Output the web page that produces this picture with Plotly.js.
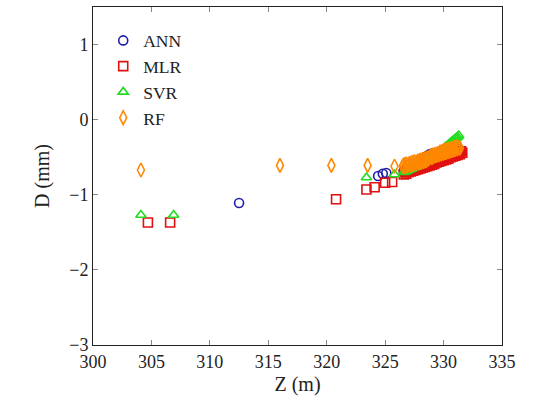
<!DOCTYPE html>
<html>
<head>
<meta charset="utf-8">
<script src="https://cdn.plot.ly/plotly-3.0.1.min.js"></script>
</head>
<body style="margin:0;background:#fff">
<div id="chart" style="width:533px;height:402px"></div>
<script>
// ANN
var annX = [312.5, 324.4, 324.8, 325.1,
  326.6, 326.8, 327.0, 327.2, 327.4, 327.6, 327.8, 328.0, 328.2, 328.4, 328.6, 328.8, 329.0, 329.2, 329.4, 329.6, 329.8, 330.0, 330.2, 330.4, 330.6, 330.8, 331.0, 331.2, 331.4, 331.5];
var annY = [-1.11, -0.75, -0.72, -0.71,
  -0.68, -0.67, -0.66, -0.65, -0.64, -0.63, -0.61, -0.59, -0.56, -0.52, -0.48, -0.46, -0.45, -0.46, -0.45, -0.44, -0.43, -0.42, -0.42, -0.41, -0.42, -0.40, -0.40, -0.39, -0.41, -0.42];
// MLR
var mlrX = [304.7, 306.6, 320.8, 323.4, 324.1, 325.0, 325.6,
  326.6, 326.7, 326.8, 326.9, 327.0, 327.1, 327.2, 327.3, 327.4, 327.5, 327.6, 327.7, 327.8, 327.9, 328.0, 328.1, 328.2, 328.3, 328.4, 328.5, 328.6, 328.7, 328.8, 328.9, 329.0, 329.1, 329.2, 329.3, 329.4, 329.5, 329.6, 329.7, 329.8, 329.9, 330.0, 330.1, 330.2, 330.3, 330.4, 330.5, 330.6, 330.7, 330.8, 330.9, 331.0, 331.1, 331.2, 331.3, 331.4, 331.5, 331.6];
var mlrY = [-1.37, -1.37, -1.06, -0.93, -0.90, -0.84, -0.83,
  -0.73, -0.70, -0.72, -0.69, -0.70, -0.68, -0.69, -0.66, -0.68, -0.65, -0.67, -0.64, -0.66, -0.63, -0.65, -0.62, -0.64, -0.61, -0.63, -0.60, -0.62, -0.59, -0.61, -0.58, -0.60, -0.57, -0.59, -0.56, -0.57, -0.55, -0.56, -0.53, -0.55, -0.52, -0.54, -0.51, -0.53, -0.50, -0.52, -0.48, -0.50, -0.47, -0.49, -0.46, -0.48, -0.44, -0.47, -0.43, -0.46, -0.42, -0.44];
// SVR
var svrX = [304.1, 306.9, 323.4, 325.8,
  326.6, 326.7, 326.8, 326.9, 327.0, 327.1, 327.2, 327.3, 327.4, 327.5, 327.6, 327.7, 327.8, 327.9, 328.0, 328.1, 328.2, 328.3, 328.4, 328.5, 328.6, 328.7, 328.8, 328.9, 329.0, 329.1, 329.2, 329.3, 329.4, 329.5, 329.6, 329.7, 329.8, 329.9, 330.0, 330.1, 330.2, 330.3, 330.4, 330.5, 330.6, 330.7, 330.8, 330.9, 331.0, 331.1, 331.2, 331.3];
var svrY = [-1.27, -1.27, -0.77, -0.73,
  -0.70, -0.69, -0.69, -0.68, -0.67, -0.66, -0.66, -0.65, -0.64, -0.63, -0.63, -0.62, -0.61, -0.60, -0.59, -0.58, -0.58, -0.57, -0.56, -0.55, -0.54, -0.53, -0.52, -0.51, -0.50, -0.49, -0.48, -0.47, -0.46, -0.45, -0.44, -0.43, -0.41, -0.40, -0.39, -0.37, -0.36, -0.35, -0.33, -0.32, -0.31, -0.29, -0.28, -0.27, -0.25, -0.24, -0.23, -0.21];
// RF
var rfX = [304.1, 316.0, 320.4, 323.5, 325.8,
  326.5, 326.6, 326.7, 326.8, 326.9, 327.0, 327.1, 327.2, 327.3, 327.4, 327.5, 327.6, 327.7, 327.8, 327.9, 328.0, 328.1, 328.2, 328.3, 328.4, 328.5, 328.6, 328.7, 328.8, 328.9, 329.0, 329.1, 329.2, 329.3, 329.4, 329.5, 329.6, 329.7, 329.8, 329.9, 330.0, 330.1, 330.2, 330.3, 330.4, 330.5, 330.6, 330.7, 330.8, 330.9, 331.0, 331.1, 331.2, 331.3, 331.4];
var rfY = [-0.67, -0.61, -0.61, -0.61, -0.62,
  -0.62, -0.60, -0.63, -0.59, -0.62, -0.60, -0.58, -0.61, -0.57, -0.60, -0.56, -0.59, -0.57, -0.55, -0.58, -0.54, -0.57, -0.53, -0.56, -0.52, -0.55, -0.51, -0.53, -0.50, -0.48, -0.51, -0.47, -0.49, -0.46, -0.48, -0.45, -0.47, -0.43, -0.46, -0.42, -0.45, -0.41, -0.44, -0.40, -0.43, -0.39, -0.42, -0.38, -0.41, -0.37, -0.40, -0.36, -0.39, -0.37, -0.38];

var xTicks = [300, 305, 310, 315, 320, 325, 330, 335];
var yTicks = [-3, -2, -1, 0, 1];

function tr(name, x, y, sym, col, size) {
  return {type: 'scatter', mode: 'markers', name: name, x: x, y: y,
    marker: {symbol: sym, size: size, color: col, line: {color: col, width: 1.6}}};
}
var data = [
  tr('ANN', annX, annY, 'circle-open', '#1e1ea8', 9),
  tr('MLR', mlrX, mlrY, 'square-open', '#e01010', 9),
  tr('SVR', svrX, svrY, 'triangle-up-open', '#22dd22', 9),
  tr('RF', rfX, rfY, 'diamond-tall-open', '#ff8800', 10)
];
var layout = {
  width: 533, height: 402,
  font: {family: 'Liberation Serif', size: 18, color: '#222'},
  margin: {l: 93, r: 31, t: 7, b: 57},
  paper_bgcolor: '#fff', plot_bgcolor: '#fff',
  showlegend: true,
  legend: {x: 0.025, y: 0.954, xanchor: 'left', yanchor: 'top', bgcolor: 'rgba(0,0,0,0)',
    font: {family: 'Liberation Serif', size: 17.5, color: '#222'}, tracegroupgap: 0, itemwidth: 30},
  xaxis: {showgrid: false, zeroline: false, showline: true, linecolor: '#222', linewidth: 1,
    mirror: 'ticks', ticks: 'inside', ticklen: 5, tickcolor: '#888',
    tickfont: {family: 'Liberation Serif', size: 18, color: '#222'},
    range: [300, 335], tickvals: xTicks, ticktext: xTicks.map(String),
    title: {text: 'Z (m)', font: {family: 'Liberation Serif', size: 20, color: '#222'}, standoff: 6}},
  yaxis: {showgrid: false, zeroline: false, showline: true, linecolor: '#222', linewidth: 1,
    mirror: 'ticks', ticks: 'inside', ticklen: 5, tickcolor: '#888',
    tickfont: {family: 'Liberation Serif', size: 18, color: '#222'},
    range: [-3, 1.5], tickvals: yTicks,
    title: {text: 'D (mm)', font: {family: 'Liberation Serif', size: 20, color: '#222'}, standoff: 14}}
};
Plotly.newPlot('chart', data, layout, {displayModeBar: false, staticPlot: true});
</script>
</body>
</html>
